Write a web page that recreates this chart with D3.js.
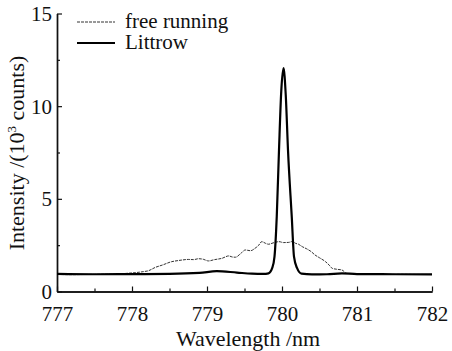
<!doctype html>
<html>
<head>
<meta charset="utf-8">
<script src="https://cdn.jsdelivr.net/npm/d3@7"></script>
</head>
<body style="margin:0;background:#fff">
<svg id="chart" width="452" height="351" font-family="Liberation Serif"></svg>
<script>
// free running spectrum (wavelength nm, intensity 10^3 counts)
const freeWl = [777.0, 777.2, 777.4, 777.6, 777.8, 777.93, 778.05, 778.15, 778.22, 778.31, 778.4, 778.53, 778.6, 778.67, 778.75, 778.82, 778.89, 778.95, 779.02, 779.1, 779.2, 779.29, 779.34, 779.38, 779.45, 779.51, 779.58, 779.64, 779.69, 779.73, 779.78, 779.82, 779.88, 779.96, 780.02, 780.09, 780.14, 780.18, 780.22, 780.27, 780.33, 780.39, 780.44, 780.5, 780.58, 780.63, 780.67, 780.73, 780.8, 780.86, 780.95, 781.04, 781.2, 781.4, 781.6, 781.8, 782.0];
const freeI = [0.92, 0.91, 0.92, 0.93, 0.94, 0.98, 1.02, 1.07, 1.12, 1.3, 1.42, 1.61, 1.66, 1.70, 1.73, 1.72, 1.77, 1.74, 1.65, 1.72, 1.79, 1.92, 1.86, 1.85, 2.05, 2.24, 2.2, 2.33, 2.5, 2.69, 2.6, 2.55, 2.62, 2.69, 2.64, 2.65, 2.7, 2.6, 2.55, 2.42, 2.3, 2.15, 1.97, 1.82, 1.61, 1.42, 1.25, 1.2, 1.16, 0.98, 0.95, 0.93, 0.94, 0.92, 0.93, 0.92, 0.92];

// Littrow spectrum
const litWl = [777.0, 777.5, 778.0, 778.5, 778.9, 779.13, 779.4, 779.6, 779.75, 779.82, 779.87, 779.9, 779.93, 779.96, 779.99, 780.02, 780.05, 780.08, 780.13, 780.16, 780.2, 780.26, 780.4, 780.6, 780.8, 781.0, 781.5, 782.0];
const litI = [0.95, 0.93, 0.94, 0.95, 1.0, 1.1, 1.02, 0.96, 0.95, 0.98, 1.27, 1.88, 4.04, 7.63, 10.8, 12.05, 10.6, 7.63, 4.04, 1.88, 1.27, 0.96, 0.92, 0.93, 0.98, 0.94, 0.93, 0.92];

const xMajor = [777, 778, 779, 780, 781, 782];
const xMinor = [777.5, 778.5, 779.5, 780.5, 781.5];
const yMajor = [0, 5, 10, 15];
const yMinor = [2.5, 7.5, 12.5];

const font = "Liberation Serif";
const svg = d3.select("#chart");
const x = d3.scaleLinear().domain([777, 782]).range([57, 432]);
const y = d3.scaleLinear().domain([0, 15]).range([291.5, 13.5]);

const line = (wl, vals) => d3.line()
    .x((d, i) => x(wl[i]))
    .y(d => y(d))
    .curve(d3.curveMonotoneX)(vals);

// axes with inward ticks
const gx = svg.append("g").attr("transform", `translate(0,${y(0)})`)
    .call(d3.axisBottom(x).tickValues(xMajor).tickSizeInner(-5).tickSizeOuter(0).tickPadding(0).tickFormat(d3.format("d")));
svg.append("g").attr("transform", `translate(0,${y(0)})`)
    .call(d3.axisBottom(x).tickValues(xMinor).tickSizeInner(-3).tickSizeOuter(0).tickFormat(""));
const gy = svg.append("g").attr("transform", `translate(${x(777)},0)`)
    .call(d3.axisLeft(y).tickValues(yMajor).tickSizeInner(-5).tickSizeOuter(0).tickPadding(5).tickFormat(d3.format("d")));
svg.append("g").attr("transform", `translate(${x(777)},0)`)
    .call(d3.axisLeft(y).tickValues(yMinor).tickSizeInner(-3).tickSizeOuter(0).tickFormat(""));

svg.selectAll("g").attr("font-family", font);
svg.selectAll(".domain").attr("stroke", "#111").attr("stroke-width", 1.4);
svg.selectAll(".tick line").attr("stroke", "#111").attr("stroke-width", 1.2);
svg.selectAll(".tick text").attr("font-size", 21).attr("fill", "#111");
gx.selectAll(".tick text").attr("y", 29.5).attr("dy", null);
gy.selectAll(".tick text").attr("dy", "0.33em");

// data lines
svg.append("path").attr("d", line(freeWl, freeI))
    .attr("fill", "none").attr("stroke", "#333").attr("stroke-width", 1)
    .attr("stroke-dasharray", "3,1");
svg.append("path").attr("d", line(litWl, litI))
    .attr("fill", "none").attr("stroke", "#000").attr("stroke-width", 2.2)
    .attr("stroke-linejoin", "round");

// axis titles
svg.append("text").attr("x", 248).attr("y", 346).attr("text-anchor", "middle")
    .attr("font-family", font).attr("font-size", 22).attr("fill", "#111").text("Wavelength /nm");
const yt = svg.append("text").attr("transform", "translate(24,153) rotate(-90)")
    .attr("text-anchor", "middle").attr("font-family", font).attr("font-size", 22).attr("fill", "#111");
yt.append("tspan").text("Intensity /(10");
yt.append("tspan").attr("font-size", 13).attr("dy", -8).text("3");
yt.append("tspan").attr("dy", 8).text(" counts)");

// legend
const legend = [
  {label: "free running", dash: "3,1", w: 1, c: "#333", yy: 22},
  {label: "Littrow", dash: null, w: 2.2, c: "#000", yy: 43}
];
legend.forEach(d => {
  svg.append("line").attr("x1", 77).attr("x2", 115).attr("y1", d.yy).attr("y2", d.yy)
      .attr("stroke", d.c).attr("stroke-width", d.w).attr("stroke-dasharray", d.dash);
  svg.append("text").attr("x", 125).attr("y", d.yy + 6).attr("font-family", font)
      .attr("font-size", 21).attr("fill", "#111").text(d.label);
});
</script>
</body>
</html>
